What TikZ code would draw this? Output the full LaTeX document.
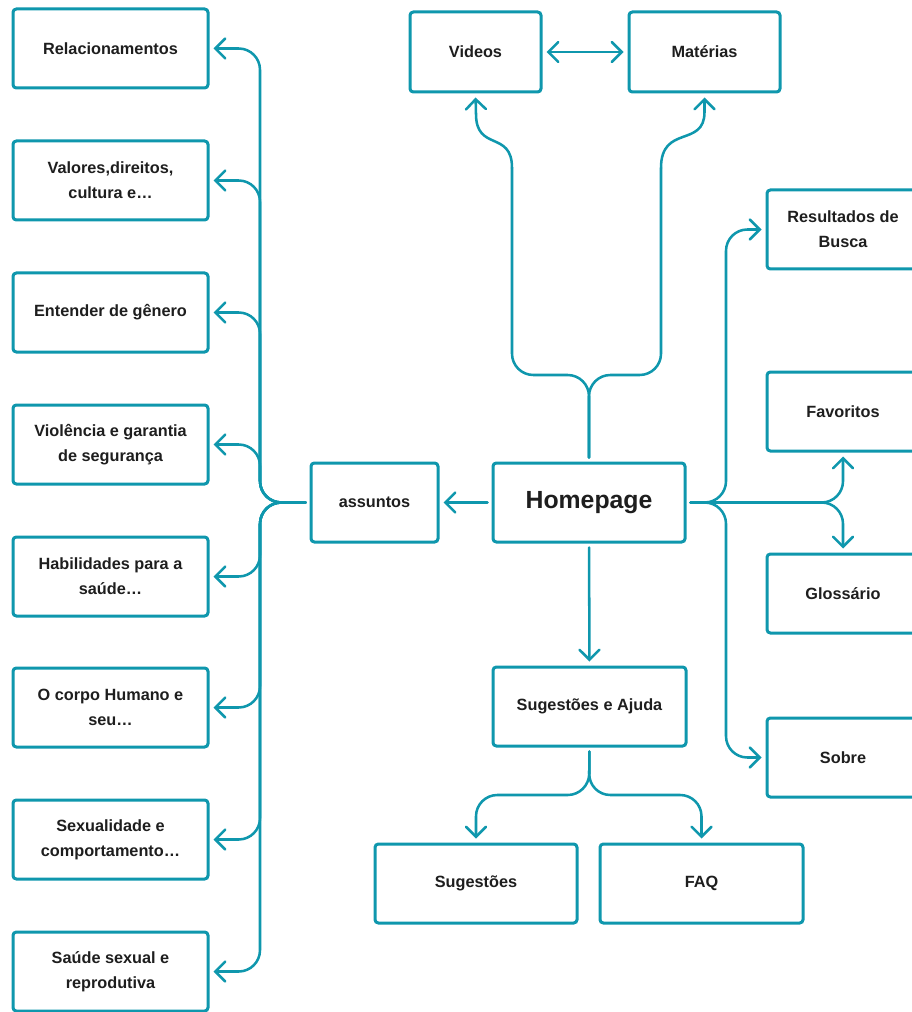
\documentclass[tikz,border=0pt]{standalone}
\usepackage{fontspec}
\setmainfont{Liberation Sans}
\usetikzlibrary{arrows.meta}
\definecolor{tealc}{HTML}{0F97AD}
\definecolor{txt}{HTML}{1E1E1E}
\begin{document}
\begin{tikzpicture}[x=0.75pt,y=-0.75pt,
  box/.style={draw=tealc, line width=2.25pt, rounded corners=2.5pt, fill=white,
    minimum height=59.25pt, inner sep=0pt, align=center, text=txt,
    font=\fontsize{12.2}{18.75}\selectfont\bfseries},
  lbox/.style={box, minimum width=146.25pt},
  rbox/.style={box, minimum width=114pt},
  conn/.style={draw=tealc, line width=1.9pt, rounded corners=16pt, line cap=round,
    shorten <=3pt, shorten >=3pt, -{Straight Barb[length=7.5pt,width=15pt,line cap=round]}},
  plainconn/.style={conn, -, shorten >=0pt},
  curveconn/.style={conn, rounded corners=0pt, shorten <=0pt},
  dconn/.style={conn, {Straight Barb[length=7.5pt,width=15pt,line cap=round]}-{Straight Barb[length=7.5pt,width=15pt,line cap=round]}}
  ]
\useasboundingbox (0,0) rectangle (912,1012);
\clip (0,0) rectangle (912,1012);

% left column
\node[lbox] (l1) at (110.5,48.5) {Relacionamentos};
\node[lbox] (l2) at (110.5,180.5) {Valores,direitos,\\cultura e…};
\node[lbox] (l3) at (110.5,312.5) {Entender de gênero};
\node[lbox] (l4) at (110.5,444.5) {Violência e garantia\\de segurança};
\node[lbox] (l5) at (110.5,576.5) {Habilidades para a\\saúde…};
\node[lbox] (l6) at (110.5,707.5) {O corpo Humano e\\seu…};
\node[lbox] (l7) at (110.5,839.5) {Sexualidade e\\comportamento…};
\node[lbox] (l8) at (110.5,971.5) {Saúde sexual e\\reprodutiva};

% centre
\node[box, minimum width=95.25pt] (ass) at (374.5,502.5) {assuntos};
\node[box, minimum width=144pt, font=\fontsize{18.6}{20}\selectfont\bfseries] (home) at (589,502.5) {Homepage};
\node[box, minimum width=98.25pt, minimum height=60pt] (vid) at (475.5,52) {Videos};
\node[box, minimum width=113.25pt, minimum height=60pt] (mat) at (704.5,52) {Matérias};
\node[box, minimum width=144.75pt] (sa) at (589.5,706.5) {Sugestões e Ajuda};
\node[box, minimum width=151.5pt] (sug) at (476,883.5) {Sugestões};
\node[box, minimum width=152.25pt] (faq) at (701.5,883.5) {FAQ};

% right column
\node[rbox] (res) at (843,229.5) {Resultados de\\Busca};
\node[rbox] (fav) at (843,411.5) {Favoritos};
\node[rbox] (glo) at (843,593.5) {Glossário};
\node[rbox] (sob) at (843,757.5) {Sobre};

% junction points
\coordinate (lt) at (260,502.5);
\coordinate (ht) at (589,375);
\coordinate (hr) at (726,502.5);
\coordinate (hf) at (843,502.5);
\coordinate (sb) at (589,795);
\coordinate (vl) at (512,168);
\coordinate (ml) at (661,168);

% left branches
\foreach \n in {l1,l2,l3,l4,l5,l6,l7,l8}
  \draw[conn] (ass.west) -- (lt) |- (\n.east);

\draw[conn] (home.west) -- (ass.east);
\draw[dconn] (vid.east) -- (mat.west);

% top branches
\draw[plainconn] (home.north) -- (ht) -| (vl);
\draw[curveconn] (vl) .. controls (512,130) and (476,152) .. (476,114) -- (vid.south);
\draw[plainconn] (home.north) -- (ht) -| (ml);
\draw[curveconn] (ml) .. controls (661,124) and (704.5,148) .. (704.5,112) -- (mat.south);

% right branches
\draw[conn] (home.east) -- (hr) |- (res.west);
\draw[conn] (home.east) -- (hr) |- (sob.west);
\draw[conn] (home.east) -- (hf) -- (fav.south);
\draw[conn] (home.east) -- (hf) -- (glo.north);

% bottom branches
\draw[conn] (home.south) -- (sa.north);
\draw[conn] (sa.south) -- (sb) -| (sug.north);
\draw[conn] (sa.south) -- (sb) -| (faq.north);
\end{tikzpicture}
\end{document}
